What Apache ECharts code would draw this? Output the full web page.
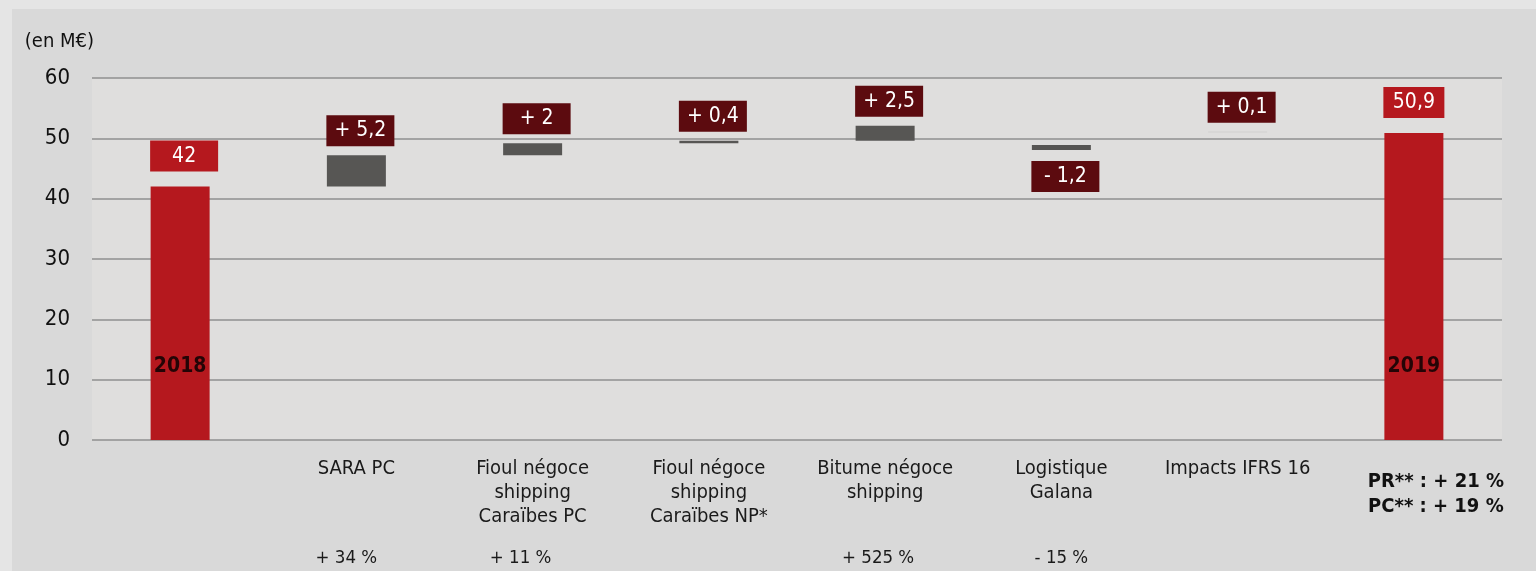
<!DOCTYPE html>
<html>
<head>
<meta charset="utf-8">
<script src="https://cdn.jsdelivr.net/npm/echarts@6/dist/echarts.min.js"></script>
<style>
  html, body { margin: 0; padding: 0; background: #e5e5e5; }
  #chart { position: absolute; left: 12px; top: 9px; width: 1524px; height: 562px; background: #d9d9d9; }
</style>
</head>
<body>
<div id="chart"></div>
<script>
// categories under the axis
const categories = ['', 'SARA PC', 'Fioul négoce\nshipping\nCaraïbes PC', 'Fioul négoce\nshipping\nCaraïbes NP*',
  'Bitume négoce\nshipping', 'Logistique\nGalana', 'Impacts IFRS 16', 'PR** : + 21 %\nPC** : + 19 %']
// invisible base of each floating bar (as drawn)
const baseValues = [0, 42, 47.2, 49.2, 49.6, 48.05, 51.0, 0]
// visible bar heights
const barValues = [42, 5.2, 2.0, 0.4, 2.5, 0.85, 0.1, 50.9]
const barLabels = ['42', '+ 5,2', '+ 2', '+ 0,4', '+ 2,5', '- 1,2', '+ 0,1', '50,9']
const percents = ['', '+ 34 %', '+ 11 %', '', '+ 525 %', '- 15 %', '', '']
const yearLabels = ['2018', '2019']
const yearPos = [[0, 12.1], [7, 12.1]]

const FONT = '"DejaVu Sans Condensed", "DejaVu Sans", sans-serif'
const RED = '#b5181e'
const DARK = '#5c0b0f'
const GREY = '#575654'
// small left shift of the percent row, like in the slide
const pctShift = [0, 10, 12, 0, 7, 0, 0, 0]

const myChart = echarts.init(document.getElementById('chart'))

const barData = barValues.map((v, i) => {
  const total = i === 0 || i === barValues.length - 1
  const below = barLabels[i].startsWith('-')
  return {
    value: v,
    itemStyle: {
      color: total ? RED : (i === 6 ? '#c4c4c4' : GREY)
    },
    label: {
      show: true,
      formatter: barLabels[i],
      position: below ? 'bottom' : 'top',
      distance: total ? 15 : (below ? 11 : 9),
      offset: [i === 7 ? 0 : 4, 0],
      backgroundColor: total ? RED : DARK,
      color: '#fff',
      fontFamily: FONT,
      fontSize: 21,
      lineHeight: 21,
      width: i === 7 ? 41 : 48,
      align: 'center',
      padding: [5, 10, 5, 10]
    }
  }
})

const option = {
  animation: false,
  grid: {
    left: 80,
    right: 34,
    top: 69,
    bottom: 131,
    show: true,
    backgroundColor: '#dfdedd',
    borderWidth: 0
  },
  xAxis: [
    {
      type: 'category',
      data: categories,
      axisLine: { show: false },
      axisTick: { show: false },
      axisLabel: {
        interval: 0,
        margin: 17,
        formatter: (v, i) => i === 7 ? '{b|' + v + '}' : '{n|' + v + '}',
        rich: {
          n: { fontFamily: FONT, fontSize: 20, lineHeight: 24, color: '#1a1a1a', align: 'center' },
          b: { fontFamily: FONT, fontSize: 20, fontWeight: 'bold', lineHeight: 25, color: '#111',
            align: 'center', padding: [24, 0, 0, 44] }
        }
      }
    },
    {
      type: 'category',
      position: 'bottom',
      offset: 101,
      data: percents,
      axisLine: { show: false },
      axisTick: { show: false },
      axisLabel: {
        interval: 0,
        margin: 8,
        formatter: (v, i) => '{p' + i + '|' + v + '}',
        rich: Object.fromEntries(pctShift.map((s, i) => ['p' + i, {
          fontFamily: FONT, fontSize: 18.5, color: '#1a1a1a', padding: [0, 2 * s, 0, 0]
        }]))
      }
    }
  ],
  yAxis: {
    type: 'value',
    min: 0,
    max: 60,
    interval: 10,
    name: '(en M€)',
    nameLocation: 'end',
    nameGap: 36,
    nameTextStyle: { fontFamily: FONT, fontSize: 20, color: '#111', align: 'right', verticalAlign: 'middle', padding: [0, -2, 0, 0] },
    axisLine: { show: false },
    axisTick: { show: false },
    axisLabel: { fontFamily: FONT, fontSize: 22, color: '#111', margin: 22 },
    splitLine: { lineStyle: { color: '#8f8f8f', width: 1.5 } }
  },
  series: [
    {
      type: 'bar',
      stack: 'w',
      data: baseValues,
      barWidth: 59,
      itemStyle: { color: 'transparent' },
      silent: true
    },
    {
      type: 'bar',
      stack: 'w',
      data: barData,
      barWidth: 59
    },
    {
      type: 'scatter',
      data: yearPos,
      symbolSize: 2,
      itemStyle: { color: 'transparent' },
      label: {
        show: true,
        position: 'inside',
        formatter: (p) => yearLabels[p.dataIndex],
        fontFamily: FONT,
        fontSize: 21,
        fontWeight: 'bold',
        color: '#000'
      },
      z: 5
    }
  ]
}
myChart.setOption(option)
</script>
</body>
</html>
